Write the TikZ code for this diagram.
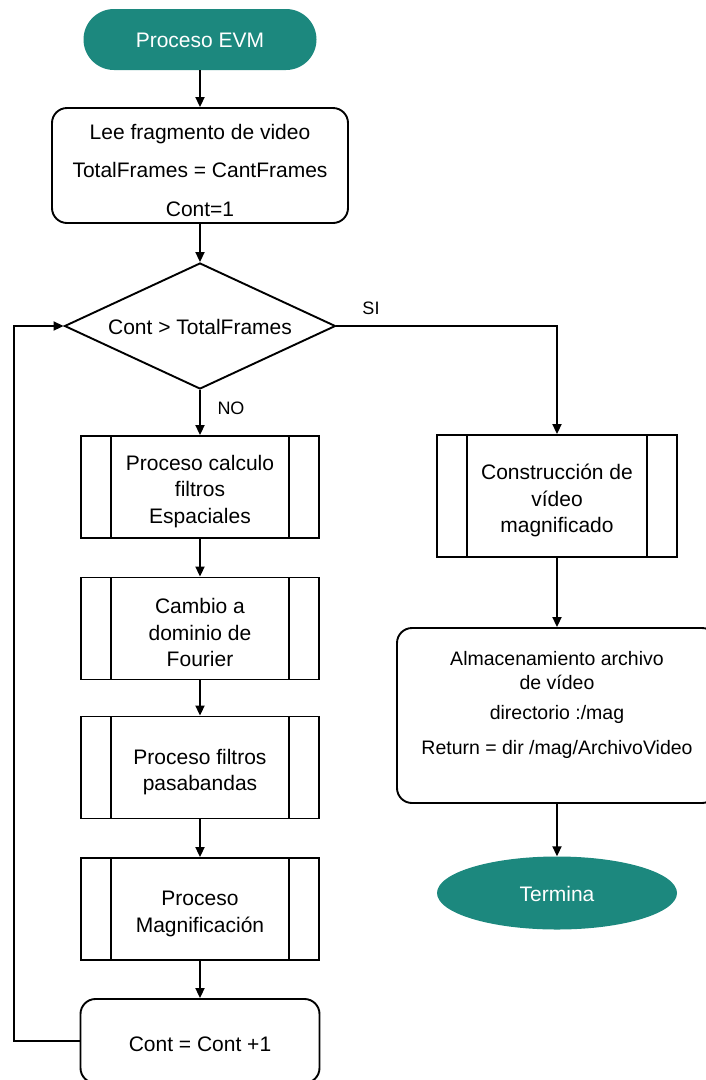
\documentclass[tikz,border=0pt]{standalone}
\usepackage{fontspec}
\setmainfont{Liberation Sans}
\usetikzlibrary{shapes.geometric,shapes.misc,arrows.meta}
\definecolor{teal1}{RGB}{28,136,126}
\newcommand\dn[1]{\rule{0pt}{#1}}
\begin{document}
\begin{tikzpicture}[x=1pt,y=-1pt,
 every node/.style={font=\fontsize{21}{26.5}\selectfont, align=center},
 ln/.style={line width=1.9pt},
 arr/.style={ln,-{Triangle[length=10pt,width=9pt]}},
 term/.style={fill=teal1, text=white, inner sep=0pt},
 proc/.style={draw, ln, rectangle, minimum width=238pt, minimum height=102pt, inner sep=0pt,
   path picture={\draw[ln] ([xshift=30pt]path picture bounding box.north west) -- ([xshift=30pt]path picture bounding box.south west)
     ([xshift=-30pt]path picture bounding box.north east) -- ([xshift=-30pt]path picture bounding box.south east);}},
 rbox/.style={draw, ln, rounded corners=15pt, inner sep=0pt},
 lbl/.style={font=\fontsize{18}{21}\selectfont}
]
\useasboundingbox (0,0) rectangle (706,1080);
\clip (0,0) rectangle (706,1080);

\node[term, rounded rectangle, minimum width=233pt, minimum height=61pt] (start) at (200,39.5) {\dn{17pt}Proceso EVM};
\node[rbox, minimum width=296pt, minimum height=115pt] (init) at (200,165.5) {\dn{25pt}Lee fragmento de video\\[12pt]TotalFrames = CantFrames\\[12pt]Cont=1};
\node[draw, ln, diamond, aspect=2.15, minimum width=271pt, minimum height=126pt, inner sep=0pt] (dec) at (200,326) {\dn{17pt}Cont > TotalFrames};
\node[proc] (p1) at (200,487) {\dn{24pt}Proceso calculo\\filtros\\Espaciales};
\node[proc] (p2) at (200,628.5) {\dn{24pt}Cambio a\\dominio de\\Fourier};
\node[proc] (p3) at (200,767.5) {\dn{24pt}Proceso filtros\\pasabandas};
\node[proc] (p4) at (200,909) {\dn{24pt}Proceso\\Magnificación};
\node[rbox, minimum width=239pt, minimum height=84pt] (cont) at (200,1041) {\dn{21.5pt}Cont = Cont +1};
\node[proc, minimum width=240pt, minimum height=122pt] (cons) at (557,496) {\dn{25pt}Construcción de\\vídeo\\magnificado};
\node[rbox, minimum width=320pt, minimum height=175pt] (alm) at (557,715.5) {};
\node[font=\fontsize{19.5}{24}\selectfont] (almt) at (557,705) {Almacenamiento archivo\\de vídeo\\[6pt]directorio :/mag\\[11pt]Return = dir /mag/ArchivoVideo};
\node[term, ellipse, minimum width=240pt, minimum height=73pt] (fin) at (557,893) {\dn{17pt}Termina};

\node[lbl] (si) at (371,308) {SI};
\node[lbl] (no) at (231,408) {NO};

\draw[arr] (start) -- (init);
\draw[arr] (init) -- (dec);
\draw[arr] (dec.south) -- (p1);
\draw[arr] (p1) -- (p2);
\draw[arr] (p2) -- (p3);
\draw[arr] (p3) -- (p4);
\draw[arr] (p4) -- (cont);
\draw[arr] (dec.east) -| (cons.north);
\draw[arr] (cons) -- (alm);
\draw[arr] (alm) -- (fin);
\coordinate (lc) at (14,1041);
\draw[arr] (cont.west) -- (lc) |- (dec.west);
\end{tikzpicture}
\end{document}
